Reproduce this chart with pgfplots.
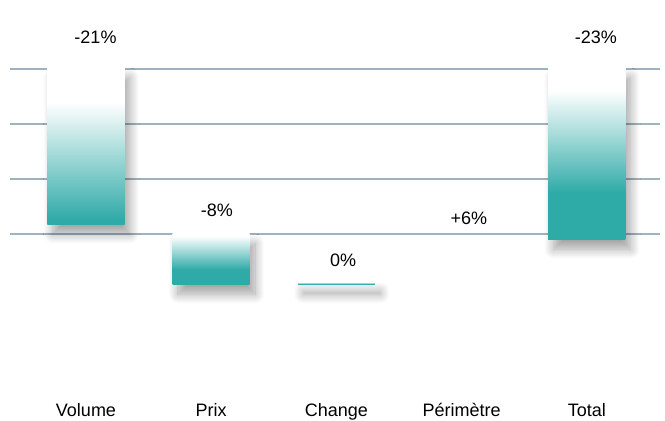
\documentclass[border=0pt]{standalone}
\usepackage{pgfplots}
\pgfplotsset{compat=1.18}
\usepackage{fontspec}
\setmainfont{Liberation Sans}
\usetikzlibrary{shadows.blur}
\definecolor{barteal}{RGB}{46,170,167}
\definecolor{gridc}{RGB}{160,178,190}
\pgfdeclareverticalshading{fadevol}{100bp}{color(0bp)=(barteal); color(25bp)=(barteal); color(26.5bp)=(barteal); color(64bp)=(white); color(100bp)=(white)}
\pgfdeclareverticalshading{fadetot}{100bp}{color(0bp)=(barteal); color(25bp)=(barteal); color(38.5bp)=(barteal); color(68.5bp)=(white); color(100bp)=(white)}
\pgfdeclareverticalshading{fadeprix}{100bp}{color(0bp)=(barteal); color(25bp)=(barteal); color(40bp)=(barteal); color(73bp)=(white); color(100bp)=(white)}
\tikzset{lbl/.style={anchor=base, inner sep=0pt, font=\fontsize{13.5}{16}\selectfont}}
\pgfplotsset{barbox/.style={draw=none, mark=none, shade, shading=#1,
  blur shadow={shadow xshift=4pt, shadow yshift=-7pt, shadow blur radius=7pt, shadow opacity=36, shadow blur steps=14}}}
\begin{document}
\begin{tikzpicture}
\begin{axis}[
  scale only axis, width=487.5pt, height=314.25pt,
  xmin=-0.607, xmax=4.585, ymin=-3.3636, ymax=4.2545,
  axis line style={draw=none},
  xtick=\empty,
  ytick={0,1,2,3}, yticklabels={}, yticklabel style={inner sep=0pt, outer sep=0pt},
  major tick length=0pt,
  ymajorgrids, grid style={gridc, line width=1.2pt},
  clip=false,
]
% Volume
\addplot[barbox=fadevol] coordinates {(-0.308,0.164) (0.308,0.164) (0.308,3.018) (-0.308,3.018)} -- cycle;
% Prix
\addplot[barbox=fadeprix] coordinates {(0.692,-0.927) (1.308,-0.927) (1.308,0) (0.692,0)} -- cycle;
% Change
\addplot[barbox=fadeprix] coordinates {(1.692,-0.927) (2.308,-0.927) (2.308,-0.873) (1.692,-0.873)} -- cycle;
% Total
\addplot[barbox=fadetot] coordinates {(3.692,-0.109) (4.308,-0.109) (4.308,3.018) (3.692,3.018)} -- cycle;
\node[lbl] at (axis cs:0.076,3.467) {-21\%};
\node[lbl] at (axis cs:1.046,0.309) {-8\%};
\node[lbl] at (axis cs:2.053,-0.6) {0\%};
\node[lbl] at (axis cs:3.059,0.164) {+6\%};
\node[lbl] at (axis cs:4.073,3.467) {-23\%};
\node[lbl] at (axis cs:0,-3.318) {Volume};
\node[lbl] at (axis cs:1,-3.318) {Prix};
\node[lbl] at (axis cs:2,-3.318) {Change};
\node[lbl] at (axis cs:3,-3.318) {Périmètre};
\node[lbl] at (axis cs:4,-3.318) {Total};
\end{axis}
\path ([xshift=-7.5pt]current axis.south west) rectangle ([xshift=3.75pt]current axis.north east);
\end{tikzpicture}
\end{document}
